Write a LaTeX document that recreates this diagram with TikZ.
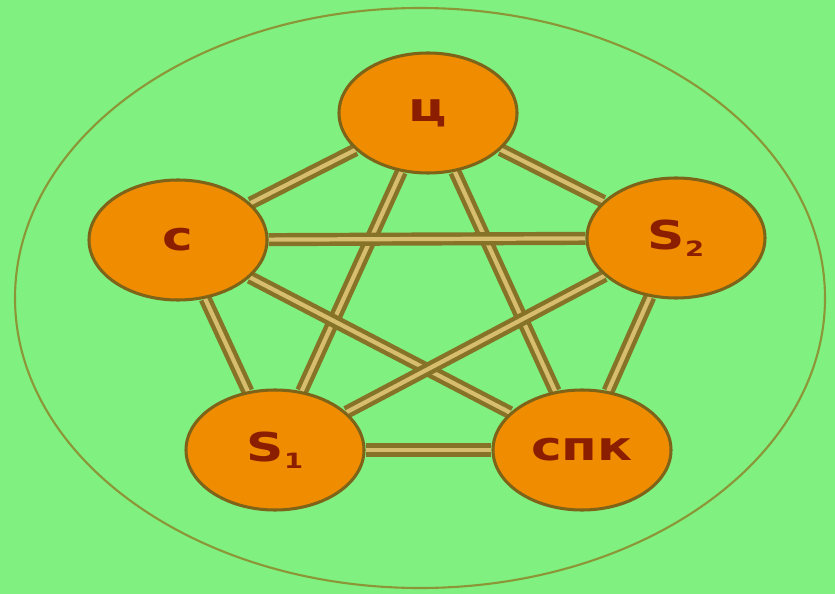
\documentclass[tikz,border=0pt]{standalone}
\usepackage{fontspec}
\setmainfont{DejaVu Sans}
\usetikzlibrary{shapes.geometric}
\definecolor{bgreen}{RGB}{128,240,128}
\definecolor{ringc}{RGB}{140,150,55}
\definecolor{nodefill}{RGB}{240,140,0}
\definecolor{nodeedge}{RGB}{125,100,25}
\definecolor{edgeout}{RGB}{135,115,40}
\definecolor{edgein}{RGB}{215,190,110}
\definecolor{txt}{RGB}{140,30,0}
\pgfdeclarelayer{bglayer}
\pgfdeclarelayer{edgelayer}
\pgfsetlayers{bglayer,edgelayer,main}
\newcommand{\lbl}[1]{\scalebox{1.3}[1]{\fontsize{34}{34}\selectfont\bfseries #1}}
\newcommand{\sbs}[1]{\raisebox{-6pt}{\fontsize{18}{18}\selectfont\bfseries #1}}
\begin{document}
\begin{tikzpicture}[x=0.03cm,y=-0.03cm,
  member/.style={ellipse, fill=nodefill, draw=nodeedge, line width=2.6pt,
    minimum width=5.34cm, minimum height=3.6cm, inner sep=0pt, text=txt},
  link/.style={draw=edgeout, line width=3.8pt, double=edgein, double distance=3.6pt},
  ring/.style={draw=ringc, line width=1.8pt}]
\begin{pgfonlayer}{bglayer}
\fill[bgreen] (0,0) rectangle (835,594);
\end{pgfonlayer}
\useasboundingbox (0,0) rectangle (835,594);
\draw[ring] (420,298) ellipse [x radius=405, y radius=290];
\node[member] (ts) at (428,113) {\lbl{ц}};
\node[member] (c) at (178,240) {\lbl{с}};
\node[member] (s2) at (676,238) {\lbl{S\sbs{2}}};
\node[member] (s1) at (275,450) {\lbl{S\sbs{1}}};
\node[member] (spk) at (582,450) {\lbl{спк}};
\begin{pgfonlayer}{edgelayer}
\draw[link] (ts) -- (c);
\draw[link] (ts) -- (s2);
\draw[link] (ts) -- (s1);
\draw[link] (ts) -- (spk);
\draw[link] (c) -- (s2);
\draw[link] (c) -- (s1);
\draw[link] (c) -- (spk);
\draw[link] (s2) -- (s1);
\draw[link] (s2) -- (spk);
\draw[link] (s1) -- (spk);
\end{pgfonlayer}
\end{tikzpicture}
\end{document}
